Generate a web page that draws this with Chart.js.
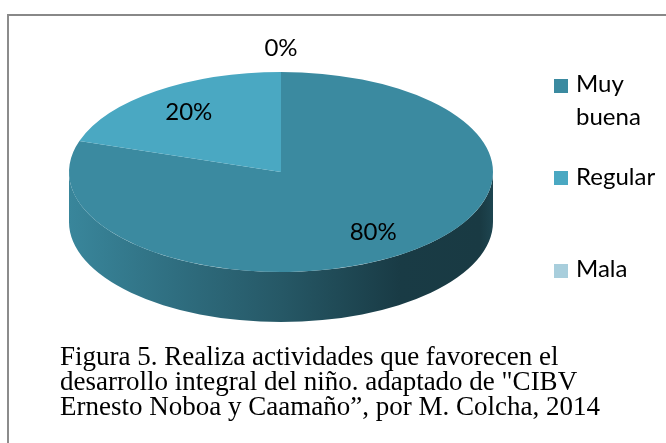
<!DOCTYPE html>
<html>
<head>
<meta charset="utf-8">
<script src="https://cdn.jsdelivr.net/npm/chart.js@4.4.1/dist/chart.umd.min.js"></script>
<style>
  html, body { margin: 0; padding: 0; background: #fff; }
  #wrap { position: relative; width: 666px; height: 443px; overflow: hidden; background: #fff; }
  #frame { position: absolute; left: 7px; top: 14px; width: 700px; height: 500px;
           border-left: 2px solid #8c8c8c; border-top: 2px solid #888; box-sizing: border-box; }
  #c { position: absolute; left: 0; top: 0; }
  .key { position: absolute; left: 554px; width: 14px; height: 14px; }
  .ltext { position: absolute; left: 576px; width: 88px; font-family: Lato, sans-serif;
           font-size: 24px; line-height: 33px; color: #000; }
  #caption { position: absolute; left: 60px; top: 344px; width: 606px; font-family: "Liberation Serif", "Times New Roman", serif;
             font-size: 27px; line-height: 25px; color: #000; white-space: pre; }
</style>
</head>
<body>
<div id="wrap">
  <div id="frame"></div>
  <canvas id="c" width="666" height="443"></canvas>
  <div id="legend"></div>
  <div id="caption"></div>
</div>
<script>
// ---- data ----
const categories = ['Muy buena', 'Regular', 'Mala'];
const values = [80, 20, 0];
const valueLabels = ['80%', '20%', '0%'];
const sliceColors = ['#3B8AA0', '#4AA8C2', '#A8CEDC'];
const captionLines = [
  'Figura 5. Realiza actividades que favorecen el',
  'desarrollo integral del niño. adaptado de "CIBV',
  'Ernesto Noboa y Caamaño”, por M. Colcha, 2014'
];

// ---- layout ----
const legendTops = [66, 159, 251];
const keyTops = [79, 171, 264];

function hexToRgb(h) {
  const n = parseInt(h.slice(1), 16);
  return [(n >> 16) & 255, (n >> 8) & 255, n & 255];
}
function shade(h, f) {
  const [r, g, b] = hexToRgb(h);
  return 'rgb(' + Math.round(r * f) + ',' + Math.round(g * f) + ',' + Math.round(b * f) + ')';
}

const pie3d = {
  id: 'pie3d',
  beforeDatasetsDraw(chart, args, opts) {
    const ctx = chart.ctx;
    const meta = chart.getDatasetMeta(0);
    const first = meta.data[0];
    const cx = first.x, cy0 = first.y, R = first.outerRadius;
    const ty = opts.topCenterY, k = opts.tilt, depth = opts.depth;
    const ry = R * k;
    meta.data.forEach((arc, i) => {
      const sa = arc.startAngle, ea = arc.endAngle;
      const base = chart.data.datasets[0].backgroundColor[i];
      for (let off = -2 * Math.PI; off <= 2 * Math.PI + 1e-9; off += 2 * Math.PI) {
        const s = Math.max(sa + off, 0), e = Math.min(ea + off, Math.PI);
        if (e > s) {
          ctx.beginPath();
          ctx.ellipse(cx, ty, R, ry, 0, s, e);
          ctx.ellipse(cx, ty + depth, R, ry, 0, e, s, true);
          ctx.closePath();
          const g = ctx.createLinearGradient(cx - R, 0, cx + R, 0);
          g.addColorStop(0, shade(base, 0.97));
          g.addColorStop(0.25, shade(base, 0.8));
          g.addColorStop(0.5, shade(base, 0.64));
          g.addColorStop(0.78, shade(base, 0.43));
          g.addColorStop(0.97, shade(base, 0.42));
          g.addColorStop(1, shade(base, 0.5));
          ctx.fillStyle = g;
          ctx.fill();
        }
      }
    });
    ctx.save();
    ctx.translate(0, ty);
    ctx.scale(1, k);
    ctx.translate(0, -cy0);
  },
  afterDatasetsDraw(chart, args, opts) {
    const ctx = chart.ctx;
    ctx.restore();
    const meta = chart.getDatasetMeta(0);
    const ty = opts.topCenterY, k = opts.tilt;
    ctx.save();
    ctx.font = '24px Lato, sans-serif';
    ctx.fillStyle = '#000';
    ctx.textAlign = 'center';
    ctx.textBaseline = 'middle';
    meta.data.forEach((arc, i) => {
      const mid = (arc.startAngle + arc.endAngle) / 2;
      const R = arc.outerRadius;
      const f = values[i] > 0 ? 0.74 : 1.24;
      const px = arc.x + f * R * Math.cos(mid);
      const py = ty + f * R * k * Math.sin(mid);
      ctx.fillText(valueLabels[i], px, py);
    });
    ctx.restore();
  }
};

new Chart(document.getElementById('c'), {
  type: 'pie',
  data: {
    labels: categories,
    datasets: [{
      data: values,
      backgroundColor: sliceColors,
      borderWidth: 0,
      hoverOffset: 0
    }]
  },
  options: {
    responsive: false,
    animation: false,
    events: [],
    devicePixelRatio: 1,
    layout: { padding: { left: 69, right: 173, top: 10, bottom: 9 } },
    plugins: {
      legend: { display: false },
      tooltip: { enabled: false },
      pie3d: { topCenterY: 172, tilt: 100 / 212, depth: 50 }
    }
  },
  plugins: [pie3d]
});

// HTML legend
const legend = document.getElementById('legend');
categories.forEach((name, i) => {
  const k = document.createElement('div');
  k.className = 'key';
  k.style.top = keyTops[i] + 'px';
  k.style.background = sliceColors[i];
  legend.appendChild(k);
  const t = document.createElement('div');
  t.className = 'ltext';
  t.style.top = legendTops[i] + 'px';
  t.textContent = name;
  legend.appendChild(t);
});
document.getElementById('caption').textContent = captionLines.join('\n');
</script>
</body>
</html>
